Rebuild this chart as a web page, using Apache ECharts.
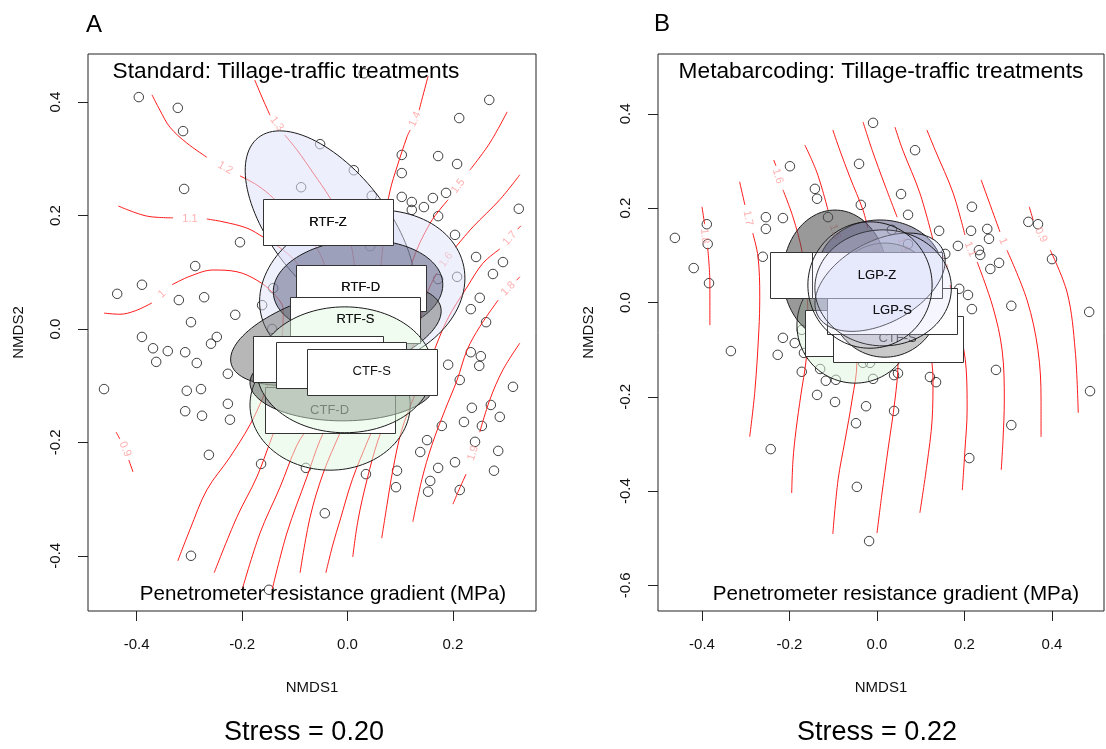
<!DOCTYPE html>
<html>
<head>
<meta charset="utf-8">
<script src="https://cdn.jsdelivr.net/npm/echarts@6/dist/echarts.min.js"></script>
<style>
html, body { margin: 0; padding: 0; background: #fff; }
#chart { width: 1106px; height: 749px; }
</style>
</head>
<body>
<div id="chart"></div>
<script>
// ---------------- Panel A: standard method ----------------
const sitesA = [
  [-0.396,0.409],[-0.322,0.390],[-0.312,0.349],[0.031,0.451],[0.269,0.404],[0.212,0.372],[-0.052,0.326],[0.103,0.307],[0.172,0.305],[0.208,0.291],
  [0.103,0.275],[0.012,0.280],[-0.310,0.247],[-0.088,0.250],[0.046,0.235],[0.103,0.233],[0.122,0.224],[0.122,0.210],[0.145,0.215],[0.162,0.231],
  [0.187,0.240],[0.172,0.199],[0.325,0.212],[0.204,0.166],[0.244,0.127],[0.276,0.097],[0.208,0.092],[0.172,0.088],[0.251,0.055],[0.234,0.035],
  [0.263,0.012],[-0.204,0.153],[-0.289,0.111],[-0.390,0.078],[-0.437,0.062],[-0.320,0.051],[-0.272,0.056],[-0.141,0.072],[-0.162,0.042],[-0.143,0.000],
  [0.043,0.146],[0.234,-0.041],[0.253,-0.048],[0.250,-0.065],[0.191,-0.063],[-0.213,0.025],[-0.297,0.012],[-0.390,-0.014],[-0.369,-0.034],[-0.341,-0.039],
  [-0.308,-0.041],[-0.248,-0.014],[-0.259,-0.026],[-0.363,-0.058],[-0.286,-0.060],[-0.227,-0.079],[-0.462,-0.106],[-0.305,-0.109],[-0.278,-0.106],[-0.227,-0.132],
  [-0.308,-0.145],[-0.276,-0.153],[-0.223,-0.160],[-0.263,-0.222],[-0.164,-0.238],[-0.079,-0.245],[-0.043,-0.325],[-0.297,-0.400],[-0.149,-0.460],[0.213,-0.090],
  [0.314,-0.102],[0.236,-0.139],[0.272,-0.134],[0.289,-0.155],[0.221,-0.164],[0.255,-0.171],[0.179,-0.171],[0.151,-0.196],[0.242,-0.199],[0.138,-0.217],
  [0.286,-0.215],[0.204,-0.235],[0.172,-0.245],[0.278,-0.250],[0.094,-0.250],[0.035,-0.256],[0.157,-0.268],[0.092,-0.279],[0.153,-0.287],[0.213,-0.284],
  [0.295,0.118]
];

// fitted penetrometer-resistance surface (MPa): contour levels and their traced paths
const contourLevelsA = ['0.9','1','1.1','1.2','1.3','1.4','1.5','1.6','1.7','1.8','1.9'];
const contourPathsA = [
  [[[-0.439,-0.182],[-0.432,-0.194]], [[-0.415,-0.231],[-0.407,-0.252]]],
  [[[-0.462,0.028],[-0.432,0.026],[-0.403,0.032],[-0.371,0.046]],
   [[-0.333,0.078],[-0.299,0.093],[-0.255,0.104],[-0.210,0.101],[-0.172,0.086],[-0.141,0.063],[-0.122,0.034],[-0.124,-0.011],[-0.138,-0.055],[-0.151,-0.099],[-0.160,-0.120],[-0.185,-0.169],[-0.223,-0.226],[-0.267,-0.284],[-0.299,-0.354],[-0.322,-0.409]]],
  [[[-0.435,0.217],[-0.380,0.199],[-0.331,0.196]],
   [[-0.267,0.194],[-0.236,0.189],[-0.191,0.178],[-0.160,0.162],[-0.122,0.139],[-0.094,0.113],[-0.081,0.069],[-0.081,-0.002],[-0.090,-0.072],[-0.119,-0.134],[-0.143,-0.190],[-0.172,-0.261],[-0.210,-0.332],[-0.253,-0.430]]],
  [[[-0.371,0.413],[-0.356,0.386],[-0.337,0.356],[-0.305,0.328],[-0.267,0.303]],
   [[-0.204,0.270],[-0.172,0.254],[-0.141,0.231],[-0.100,0.189],[-0.056,0.139],[-0.037,0.086],[-0.033,-0.002],[-0.043,-0.090],[-0.067,-0.160],[-0.096,-0.205],[-0.128,-0.279],[-0.166,-0.360],[-0.200,-0.460]]],
  [[[-0.176,0.439],[-0.160,0.404],[-0.147,0.377]],
   [[-0.119,0.342],[-0.096,0.316],[-0.065,0.275],[-0.033,0.231],[-0.005,0.183],[0.009,0.139],[0.016,0.069],[0.014,-0.002],[0.005,-0.072],[-0.024,-0.143],[-0.052,-0.196],[-0.077,-0.261],[-0.115,-0.360],[-0.143,-0.460]]],
  [[[0.153,0.446],[0.141,0.404],[0.136,0.386]],
   [[0.119,0.351],[0.113,0.339],[0.094,0.286],[0.081,0.245],[0.071,0.192],[0.067,0.145],[0.062,0.095],[0.058,0.034],[0.043,-0.037],[0.018,-0.116],[-0.014,-0.183],[-0.046,-0.254],[-0.071,-0.332],[-0.090,-0.430]]],
  [[[0.303,0.383],[0.270,0.328],[0.232,0.280]],
   [[0.191,0.228],[0.157,0.187],[0.122,0.116],[0.109,0.051],[0.096,-0.037],[0.071,-0.125],[0.039,-0.196],[0.009,-0.266],[-0.014,-0.337],[-0.028,-0.381],[-0.041,-0.430]]],
  [[[0.327,0.272],[0.289,0.228],[0.238,0.180],[0.204,0.143]],
   [[0.170,0.099],[0.151,0.063],[0.134,-0.002],[0.109,-0.072],[0.081,-0.143],[0.058,-0.196],[0.037,-0.266],[0.020,-0.337],[0.010,-0.402]]],
  [[[0.329,0.182],[0.323,0.176]],
   [[0.289,0.141],[0.257,0.116],[0.227,0.074],[0.189,0.016],[0.157,-0.055],[0.128,-0.116],[0.103,-0.178],[0.086,-0.249],[0.075,-0.310],[0.065,-0.369]]],
  [[[0.327,0.092],[0.321,0.086]],
   [[0.286,0.051],[0.251,0.004],[0.227,-0.037],[0.208,-0.090],[0.185,-0.143],[0.160,-0.205],[0.141,-0.266],[0.124,-0.340]]],
  [[[0.327,-0.025],[0.295,-0.072],[0.270,-0.125],[0.251,-0.182]],
   [[0.225,-0.256],[0.210,-0.287],[0.200,-0.309]]]
];
const contourLabelPosA = [[-0.422,-0.212],[-0.352,0.062],[-0.299,0.194],[-0.232,0.284],[-0.134,0.362],[0.128,0.370],[0.210,0.252],[0.187,0.122],[0.308,0.160],[0.305,0.071],[0.238,-0.219]];
const contourLabelAngleA = [-67, 42, 0, -30, -53, 66, 54, 54, 48, 46, 72];

// treatment dispersion ellipses: [centre x, centre y, semi-axis a, semi-axis b, angle deg]
const ellipsesA = [
  [-0.033, 0.178, 0.210, 0.106, -48],
  [0.028, 0.069, 0.197, 0.138, 12],
  [0.020, 0.072, 0.161, 0.085, 3],
  [-0.033, -0.134, 0.152, 0.115, 0],
  [-0.022, -0.011, 0.205, 0.076, 14],
  [-0.009, -0.095, 0.176, 0.067, 0],
  [-0.005, -0.072, 0.167, 0.111, 0]
];
const ellipseFillA = [
  'rgba(222,225,250,0.55)', 'rgba(222,225,250,0.5)', 'rgba(55,60,95,0.42)',
  'rgba(225,248,225,0.5)', 'rgba(95,95,95,0.45)', 'rgba(60,60,60,0.45)', 'rgba(225,248,225,0.45)'
];
const groupNamesA = ['RTF-Z', 'RTF-D', 'CTF-D', 'RTF-S', '', '', 'CTF-S'];
const groupCentresA = [[-0.037,0.188],[0.025,0.073],[-0.034,-0.143],[0.015,0.016],[-0.056,-0.053],[-0.012,-0.063],[0.046,-0.075]];
// paint order: e = ellipse, b = label box, t = label text redrawn on top
const layersA = [['e',0],['e',1],['e',2],['e',3],['e',4],['b',0],['b',1],['b',2],['e',5],['b',3],['e',6],['b',4],['b',5],['b',6],
                 ['t',0],['t',1],['t',3]];

// ---------------- Panel B: metabarcoding ----------------
const sitesB = [
  [-0.009,0.381],[0.087,0.323],[-0.041,0.294],[-0.199,0.289],[-0.142,0.241],[-0.137,0.220],[-0.037,0.207],[0.055,0.230],[0.071,0.186],[-0.112,0.181],
  [-0.254,0.181],[-0.215,0.179],[-0.254,0.156],[-0.389,0.166],[-0.387,0.124],[-0.462,0.137],[-0.419,0.073],[-0.384,0.041],[-0.261,0.097],[0.034,0.154],
  [0.217,0.203],[0.142,0.152],[0.215,0.152],[0.252,0.156],[0.256,0.135],[0.185,0.120],[0.233,0.111],[0.236,0.101],[0.156,0.103],[0.279,0.084],
  [0.259,0.071],[0.346,0.171],[0.368,0.166],[0.400,0.092],[0.071,0.124],[0.188,0.029],[0.208,0.016],[0.217,-0.014],[0.307,-0.007],[0.485,-0.020],
  [0.272,-0.143],[0.487,-0.188],[0.307,-0.260],[-0.130,-0.141],[-0.117,-0.166],[-0.094,-0.164],[-0.009,-0.162],[0.039,-0.154],[0.048,-0.150],[0.121,-0.158],
  [0.135,-0.169],[-0.096,-0.211],[-0.025,-0.220],[0.039,-0.230],[-0.048,-0.256],[-0.215,-0.075],[-0.188,-0.086],[-0.334,-0.103],[-0.227,-0.111],[-0.167,-0.107],
  [-0.172,-0.147],[-0.137,-0.196],[-0.243,-0.311],[-0.046,-0.391],[-0.018,-0.506],[-0.032,-0.128],[-0.016,-0.128],[0.211,-0.330],[-0.172,-0.058]
];

const contourLevelsB = ['0.9','1','1.1','1.2','1.3','1.4','1.5','1.6','1.7','1.8'];
const contourPathsB = [
  [[[0.348,0.203],[0.357,0.175]], [[0.396,0.111],[0.435,0.020],[0.453,-0.101],[0.460,-0.234]]],
  [[[0.238,0.260],[0.281,0.150]], [[0.297,0.111],[0.343,0.005],[0.368,-0.101],[0.375,-0.207],[0.375,-0.285]]],
  [[[0.114,0.366],[0.133,0.323],[0.174,0.232],[0.201,0.143]], [[0.229,0.086],[0.265,-0.010],[0.286,-0.101],[0.291,-0.207],[0.288,-0.292],[0.284,-0.355]]],
  [[[0.041,0.372],[0.059,0.323],[0.098,0.232],[0.128,0.133]], [[0.167,0.037],[0.190,-0.058],[0.204,-0.143],[0.206,-0.228],[0.201,-0.313],[0.195,-0.398]]],
  [[[-0.032,0.383],[-0.011,0.323],[0.018,0.249],[0.046,0.181]], [[0.071,0.069],[0.098,-0.016],[0.121,-0.101],[0.128,-0.164],[0.126,-0.249],[0.114,-0.345],[0.098,-0.446]]],
  [[[-0.101,0.366],[-0.085,0.323],[-0.062,0.266],[-0.032,0.196],[-0.021,0.158]], [[0.002,0.080],[0.025,0.005],[0.043,-0.069],[0.048,-0.128],[0.041,-0.207],[0.025,-0.313],[0.011,-0.408],[0.000,-0.489]]],
  [[[-0.165,0.334],[-0.137,0.275],[-0.112,0.196]], [[-0.080,0.101],[-0.062,0.027],[-0.048,-0.058],[-0.046,-0.128],[-0.057,-0.207],[-0.073,-0.292],[-0.089,-0.376],[-0.101,-0.491]]],
  [[[-0.236,0.302],[-0.231,0.290]], [[-0.215,0.239],[-0.192,0.181],[-0.172,0.111],[-0.160,0.027],[-0.158,-0.058],[-0.162,-0.122],[-0.174,-0.196],[-0.185,-0.270],[-0.192,-0.334],[-0.195,-0.404]]],
  [[[-0.314,0.256],[-0.302,0.207]], [[-0.284,0.147],[-0.272,0.097],[-0.268,0.012],[-0.270,-0.058],[-0.279,-0.186],[-0.291,-0.285]]],
  [[[-0.400,0.203],[-0.394,0.166]], [[-0.387,0.116],[-0.382,0.041],[-0.382,-0.048]]]
];
const contourLabelPosB = [[0.375,0.143],[0.288,0.130],[0.213,0.113],[0.149,0.084],[0.059,0.122],[-0.009,0.120],[-0.096,0.150],[-0.227,0.268],[-0.295,0.179],[-0.394,0.141]];
const contourLabelAngleB = [-62, -68, -68, -70, -72, -72, -72, -72, -78, -85];

const ellipsesB = [
  [-0.050, -0.048, 0.133, 0.123, 0],
  [-0.096, 0.058, 0.119, 0.138, 0],
  [0.007, 0.069, 0.142, 0.106, 0],
  [0.018, 0.005, 0.126, 0.121, 0],
  [0.007, 0.043, 0.159, 0.088, 25],
  [0.014, 0.031, 0.156, 0.123, 0],
  [-0.016, 0.037, 0.142, 0.134, 0]
];
const ellipseFillB = [
  'rgba(220,245,220,0.5)', 'rgba(70,70,70,0.55)', 'rgba(50,50,100,0.45)', 'rgba(100,100,100,0.35)',
  'rgba(200,205,250,0.3)', 'rgba(215,218,250,0.25)', 'rgba(220,222,250,0.15)'
];
const groupNamesB = ['', '', 'CTF-S', 'LGP-S', 'LGP-Z'];
const groupCentresB = [[-0.096,0.058],[-0.015,-0.064],[0.047,-0.077],[0.035,-0.017],[0.000,0.058]];
const layersB = [['e',0],['e',1],['e',2],['b',0],['b',1],['b',2],['e',3],['b',3],['b',4],['e',4],['e',5],['e',6],
                 ['t',3],['t',4]];

// ---------------- shared drawing helpers ----------------
const FONT = '"Liberation Sans", Arial, Helvetica, sans-serif';
const BOX_W = 130, BOX_H = 46;

function layerSeries(layers, ellipses, fills, centres, names, idx) {
  return {
    type: 'custom', xAxisIndex: idx, yAxisIndex: idx, z: 5, silent: true, clip: true,
    data: layers.map(([k, i]) => k === 'e' ? [ellipses[i][0], ellipses[i][1]] : centres[i]),
    renderItem: function (params, api) {
      const [kind, i] = layers[params.dataIndex];
      if (kind === 'e') {
        const [cx, cy, a, b, ang] = ellipses[i];
        const t = ang * Math.PI / 180, pts = [];
        for (let s = 0; s < 120; s++) {
          const u = s / 120 * 2 * Math.PI;
          const dx = a * Math.cos(u), dy = b * Math.sin(u);
          pts.push(api.coord([cx + dx * Math.cos(t) - dy * Math.sin(t), cy + dx * Math.sin(t) + dy * Math.cos(t)]));
        }
        return { type: 'polygon', shape: { points: pts }, style: { fill: fills[i], stroke: '#1a1a1a', lineWidth: 1 } };
      }
      const p = api.coord(centres[i]);
      const label = { type: 'text', x: p[0], y: p[1], style: { text: names[i], fill: '#111', font: '13px ' + FONT, align: 'center', verticalAlign: 'middle' } };
      if (kind === 't') return label;
      return {
        type: 'group',
        children: [
          { type: 'rect', shape: { x: Math.round(p[0] - BOX_W / 2) + 0.5, y: Math.round(p[1] - BOX_H / 2) + 0.5, width: BOX_W, height: BOX_H },
            style: { fill: '#ffffff', stroke: '#333', lineWidth: 1 } },
          label
        ]
      };
    }
  };
}

function contourSeries(paths, idx) {
  const out = [];
  paths.forEach(segs => segs.forEach(seg => out.push({
    type: 'line', xAxisIndex: idx, yAxisIndex: idx, data: seg, z: 3, silent: true,
    symbol: 'none', showSymbol: false, smooth: 0.35,
    lineStyle: { color: '#ff1a1a', width: 1 }
  })));
  return out;
}

function contourLabelSeries(levels, pos, angles, idx) {
  return {
    type: 'scatter', xAxisIndex: idx, yAxisIndex: idx, z: 3, silent: true,
    symbolSize: 1, itemStyle: { color: 'rgba(0,0,0,0)' },
    data: levels.map((lv, i) => ({ value: pos[i], name: lv, label: { rotate: angles[i] } })),
    label: { show: true, position: 'inside', formatter: '{b}', color: '#ff9c9c', fontSize: 11, fontFamily: FONT }
  };
}

function siteSeries(pts, idx) {
  return {
    type: 'scatter', xAxisIndex: idx, yAxisIndex: idx, z: 2, silent: true, data: pts,
    symbol: 'circle', symbolSize: 9.5,
    itemStyle: { color: 'rgba(0,0,0,0)', borderColor: '#111', borderWidth: 1 }
  };
}

function xAxisDef(idx, min, max, ticks) {
  return {
    gridIndex: idx, type: 'value', min: min, max: max, position: 'bottom',
    name: 'NMDS1', nameLocation: 'middle', nameGap: 69,
    nameTextStyle: { fontSize: 15, fontFamily: FONT, color: '#111' },
    axisLine: { show: false, onZero: false }, splitLine: { show: false },
    axisTick: { show: true, inside: false, length: 10, customValues: ticks, lineStyle: { color: '#222' } },
    axisLabel: { customValues: ticks, margin: 26, fontSize: 15, fontFamily: FONT, color: '#111', formatter: v => v.toFixed(1) }
  };
}
function yAxisDef(idx, min, max, ticks, nameGap) {
  return {
    gridIndex: idx, type: 'value', min: min, max: max, position: 'left',
    name: 'NMDS2', nameLocation: 'middle', nameGap: nameGap, nameRotate: 90,
    nameTextStyle: { fontSize: 15, fontFamily: FONT, color: '#111' },
    axisLine: { show: false, onZero: false }, splitLine: { show: false },
    axisTick: { show: true, inside: false, length: 10, customValues: ticks, lineStyle: { color: '#222' } },
    axisLabel: { customValues: ticks, margin: 25, rotate: 90, fontSize: 15, fontFamily: FONT, color: '#111', formatter: v => v.toFixed(1) }
  };
}

const ticksAx = [-0.4, -0.2, 0, 0.2];
const ticksAy = [-0.4, -0.2, 0, 0.2, 0.4];
const ticksBx = [-0.4, -0.2, 0, 0.2, 0.4];
const ticksBy = [-0.6, -0.4, -0.2, 0, 0.2, 0.4];

const chart = echarts.init(document.getElementById('chart'), null, { renderer: 'canvas' });
chart.setOption({
  animation: false,
  backgroundColor: '#ffffff',
  grid: [
    { left: 88, top: 54, width: 448, height: 557, show: true, borderColor: '#222', borderWidth: 1, backgroundColor: 'transparent' },
    { left: 658, top: 54, width: 446, height: 557, show: true, borderColor: '#222', borderWidth: 1, backgroundColor: 'transparent' }
  ],
  xAxis: [xAxisDef(0, -0.4924, 0.3577, ticksAx), xAxisDef(1, -0.5006, 0.5189, ticksBx)],
  yAxis: [yAxisDef(0, -0.4974, 0.4850, ticksAy, 62), yAxisDef(1, -0.6543, 0.5270, ticksBy, 62)],
  series: [
    siteSeries(sitesA, 0),
    ...contourSeries(contourPathsA, 0),
    contourLabelSeries(contourLevelsA, contourLabelPosA, contourLabelAngleA, 0),
    layerSeries(layersA, ellipsesA, ellipseFillA, groupCentresA, groupNamesA, 0),
    siteSeries(sitesB, 1),
    ...contourSeries(contourPathsB, 1),
    contourLabelSeries(contourLevelsB, contourLabelPosB, contourLabelAngleB, 1),
    layerSeries(layersB, ellipsesB, ellipseFillB, groupCentresB, groupNamesB, 1)
  ],
  graphic: [
    { type: 'text', x: 86, y: 25, z: 10, style: { text: 'A', font: '24px ' + FONT, fill: '#000', align: 'left', verticalAlign: 'middle' } },
    { type: 'text', x: 654, y: 24, z: 10, style: { text: 'B', font: '24px ' + FONT, fill: '#000', align: 'left', verticalAlign: 'middle' } },
    { type: 'text', x: 286, y: 72, z: 10, style: { text: 'Standard: Tillage-traffic treatments', font: '22.7px ' + FONT, fill: '#000', align: 'center', verticalAlign: 'middle' } },
    { type: 'text', x: 881, y: 72, z: 10, style: { text: 'Metabarcoding: Tillage-traffic treatments', font: '22.7px ' + FONT, fill: '#000', align: 'center', verticalAlign: 'middle' } },
    { type: 'text', x: 323, y: 594, z: 10, style: { text: 'Penetrometer resistance gradient (MPa)', font: '20.6px ' + FONT, fill: '#000', align: 'center', verticalAlign: 'middle' } },
    { type: 'text', x: 896, y: 594, z: 10, style: { text: 'Penetrometer resistance gradient (MPa)', font: '20.6px ' + FONT, fill: '#000', align: 'center', verticalAlign: 'middle' } },
    { type: 'text', x: 304, y: 733, z: 10, style: { text: 'Stress = 0.20', font: '27px ' + FONT, fill: '#000', align: 'center', verticalAlign: 'middle' } },
    { type: 'text', x: 877, y: 733, z: 10, style: { text: 'Stress = 0.22', font: '27px ' + FONT, fill: '#000', align: 'center', verticalAlign: 'middle' } }
  ]
});
</script>
</body>
</html>
